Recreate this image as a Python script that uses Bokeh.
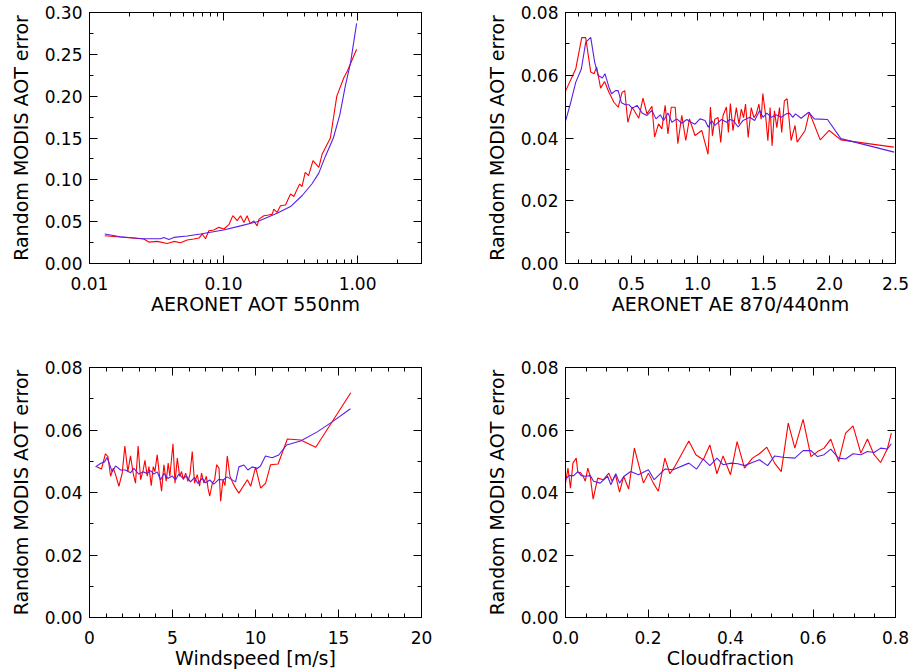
from bokeh.plotting import figure
from bokeh.layouts import gridplot
from bokeh.models import (LinearAxis, LogAxis, SingleIntervalTicker, FixedTicker,
                          NumeralTickFormatter, Range1d, CustomLabelingPolicy)
from bokeh.embed import file_html
from bokeh.resources import INLINE

RED = "#ff0000"
BLUE = "#5a1ee6"
FONT = "DejaVu Sans"
YLABEL = "Random MODIS AOT error"

# ---------------- Panel 1: AOT 550nm ----------------
aot_red_x = [0.0130, 0.0254, 0.0277, 0.0320, 0.0380, 0.0426, 0.0478, 0.0535, 0.0601, 0.0655,
             0.0693, 0.0734, 0.0777, 0.0847, 0.0923, 0.1005, 0.1096, 0.1174, 0.1265, 0.134,
             0.142, 0.150, 0.158, 0.168, 0.178, 0.184, 0.200, 0.217, 0.231, 0.237,
             0.251, 0.266, 0.290, 0.316, 0.335, 0.350, 0.370, 0.385, 0.407, 0.431,
             0.465, 0.514, 0.545, 0.627, 0.700, 0.790, 0.840, 0.984]
aot_red_y = [0.0332, 0.0292, 0.0256, 0.0264, 0.0240, 0.0264, 0.0248, 0.0280, 0.0292, 0.0304,
             0.0352, 0.0296, 0.0392, 0.0400, 0.0432, 0.0412, 0.0464, 0.0572, 0.0512, 0.0570,
             0.0490, 0.0570, 0.0480, 0.0510, 0.0450, 0.0530, 0.0570, 0.0580, 0.0590, 0.0650,
             0.0610, 0.0690, 0.0700, 0.0830, 0.0800, 0.0870, 0.0950, 0.0920, 0.1090, 0.1050,
             0.1230, 0.1150, 0.1310, 0.1500, 0.2000, 0.2220, 0.2300, 0.2560]
aot_blue_x = [0.0130, 0.0170, 0.0254, 0.0339, 0.0359, 0.0391, 0.0426, 0.0535, 0.0673, 0.100,
              0.134, 0.178, 0.251, 0.316, 0.385, 0.456, 0.514, 0.575, 0.660, 0.738,
              0.810, 0.887, 0.984]
aot_blue_y = [0.0352, 0.0320, 0.0296, 0.0296, 0.0312, 0.0288, 0.0312, 0.0328, 0.0352, 0.0400,
              0.0450, 0.0500, 0.0600, 0.0680, 0.0810, 0.0950, 0.1080, 0.1280, 0.1500, 0.1780,
              0.2120, 0.2400, 0.2870]

# ---------------- Panel 2: AE 870/440 ----------------
ae_red_x = [0.002, 0.078, 0.123, 0.153, 0.191, 0.216, 0.236, 0.266, 0.296, 0.329,
            0.367, 0.399, 0.429, 0.449, 0.472, 0.505, 0.555, 0.587, 0.617, 0.655,
            0.675, 0.705, 0.730, 0.755, 0.776, 0.801, 0.831, 0.851, 0.881, 0.911,
            0.939, 0.981, 1.032, 1.080, 1.098, 1.113, 1.131, 1.156, 1.176, 1.193,
            1.219, 1.234, 1.249, 1.269, 1.294, 1.314, 1.332, 1.349, 1.364, 1.384,
            1.407, 1.427, 1.445, 1.465, 1.482, 1.495, 1.515, 1.533, 1.550, 1.565,
            1.583, 1.601, 1.621, 1.638, 1.658, 1.679, 1.709, 1.739, 1.755, 1.815,
            1.847, 1.930, 1.998, 2.086, 2.487]
ae_red_y = [0.0551, 0.0621, 0.0720, 0.0720, 0.0610, 0.0605, 0.0626, 0.0559, 0.0580, 0.0546,
            0.0514, 0.0498, 0.0546, 0.0551, 0.0450, 0.0498, 0.0463, 0.0527, 0.0477, 0.0501,
            0.0403, 0.0445, 0.0429, 0.0504, 0.0413, 0.0498, 0.0498, 0.0382, 0.0472, 0.0392,
            0.0461, 0.0408, 0.0424, 0.0348, 0.0499, 0.0407, 0.0460, 0.0465, 0.0386, 0.0471,
            0.0499, 0.0418, 0.0510, 0.0423, 0.0497, 0.0444, 0.0492, 0.0465, 0.0508, 0.0402,
            0.0497, 0.0465, 0.0476, 0.0508, 0.0460, 0.0542, 0.0476, 0.0391, 0.0497, 0.0375,
            0.0487, 0.0433, 0.0497, 0.0418, 0.0518, 0.0525, 0.0392, 0.0440, 0.0387, 0.0424,
            0.0482, 0.0394, 0.0424, 0.0394, 0.0371]
ae_blue_x = [0.002, 0.040, 0.078, 0.120, 0.153, 0.191, 0.221, 0.248, 0.279, 0.299,
             0.329, 0.349, 0.379, 0.399, 0.424, 0.454, 0.480, 0.505, 0.542, 0.580,
             0.617, 0.655, 0.685, 0.718, 0.743, 0.776, 0.806, 0.843, 0.881, 0.919,
             0.951, 0.981, 1.019, 1.057, 1.082, 1.107, 1.132, 1.157, 1.182, 1.220,
             1.245, 1.270, 1.308, 1.345, 1.396, 1.433, 1.471, 1.496, 1.526, 1.559,
             1.596, 1.634, 1.672, 1.697, 1.722, 1.742, 1.785, 1.842, 1.885, 1.985,
             2.086, 2.490]
ae_blue_y = [0.0456, 0.0514, 0.0578, 0.0620, 0.0705, 0.0721, 0.0642, 0.0599, 0.0591, 0.0605,
             0.0562, 0.0541, 0.0551, 0.0551, 0.0512, 0.0506, 0.0506, 0.0495, 0.0504, 0.0480,
             0.0472, 0.0488, 0.0461, 0.0474, 0.0456, 0.0480, 0.0450, 0.0461, 0.0447, 0.0459,
             0.0450, 0.0444, 0.0461, 0.0456, 0.0434, 0.0456, 0.0440, 0.0450, 0.0459, 0.0450,
             0.0459, 0.0456, 0.0435, 0.0456, 0.0466, 0.0456, 0.0488, 0.0466, 0.0479, 0.0466,
             0.0474, 0.0466, 0.0477, 0.0479, 0.0466, 0.0477, 0.0463, 0.0482, 0.0461, 0.0459,
             0.0398, 0.0355]

# ---------------- Panel 3: Windspeed ----------------
ws_red_x = [0.40, 0.72, 0.96, 1.11, 1.27, 1.43, 1.57, 1.77, 1.97, 2.13,
            2.31, 2.47, 2.63, 2.77, 2.93, 3.08, 3.24, 3.34, 3.48, 3.58,
            3.72, 3.84, 3.94, 4.08, 4.20, 4.34, 4.48, 4.62, 4.74, 4.84,
            5.03, 5.15, 5.29, 5.43, 5.55, 5.65, 5.79, 5.93, 6.05, 6.19,
            6.33, 6.49, 6.63, 6.75, 6.89, 7.04, 7.14, 7.24, 7.40, 7.54,
            7.66, 7.80, 7.90, 8.04, 8.16, 8.30, 8.46, 8.64, 8.80, 9.00,
            9.51, 9.71, 10.01, 10.31, 10.61, 10.91, 11.36, 11.92, 12.72, 13.63,
            15.74]
ws_red_y = [0.0483, 0.0475, 0.0524, 0.0515, 0.0452, 0.0478, 0.0457, 0.0420, 0.0462, 0.0549,
            0.0467, 0.0517, 0.0462, 0.0430, 0.0549, 0.0441, 0.0473, 0.0503, 0.0452, 0.0483,
            0.0422, 0.0483, 0.0467, 0.0521, 0.0462, 0.0404, 0.0489, 0.0436, 0.0494, 0.0452,
            0.0556, 0.0430, 0.0510, 0.0452, 0.0467, 0.0441, 0.0462, 0.0436, 0.0457, 0.0531,
            0.0430, 0.0457, 0.0420, 0.0462, 0.0430, 0.0452, 0.0414, 0.0388, 0.0430, 0.0441,
            0.0489, 0.0478, 0.0372, 0.0441, 0.0422, 0.0517, 0.0452, 0.0430, 0.0414, 0.0398,
            0.0441, 0.0420, 0.0481, 0.0414, 0.0430, 0.0489, 0.0491, 0.0571, 0.0568, 0.0545,
            0.0719]
ws_blue_x = [0.36, 0.66, 0.90, 1.06, 1.37, 1.57, 1.87, 2.17, 2.47, 2.67,
             2.97, 3.23, 3.47, 3.68, 3.88, 4.08, 4.28, 4.48, 4.72, 4.98,
             5.18, 5.38, 5.64, 5.84, 6.08, 6.33, 6.53, 6.79, 6.99, 7.25,
             7.49, 7.79, 8.05, 8.29, 8.55, 8.80, 9.00, 9.30, 9.54, 9.80,
             10.10, 10.30, 10.60, 11.00, 11.40, 11.87, 12.71, 13.72, 14.62, 15.72]
ws_blue_y = [0.0482, 0.0493, 0.0498, 0.0512, 0.0466, 0.0485, 0.0472, 0.0472, 0.0463, 0.0477,
             0.0459, 0.0466, 0.0461, 0.0470, 0.0459, 0.0466, 0.0440, 0.0461, 0.0445, 0.0453,
             0.0440, 0.0459, 0.0445, 0.0453, 0.0434, 0.0448, 0.0429, 0.0445, 0.0431, 0.0440,
             0.0427, 0.0442, 0.0440, 0.0450, 0.0442, 0.0434, 0.0482, 0.0488, 0.0472, 0.0482,
             0.0477, 0.0485, 0.0517, 0.0511, 0.0520, 0.0552, 0.0565, 0.0594, 0.0626, 0.0668]

# ---------------- Panel 4: Cloudfraction ----------------
cf_red_x = [0.000, 0.006, 0.012, 0.018, 0.026, 0.030, 0.036, 0.043, 0.048, 0.054,
            0.060, 0.067, 0.078, 0.092, 0.105, 0.113, 0.121, 0.131, 0.141, 0.153,
            0.167, 0.189, 0.201, 0.213, 0.225, 0.241, 0.253, 0.265, 0.299, 0.316,
            0.334, 0.350, 0.367, 0.382, 0.400, 0.416, 0.434, 0.453, 0.470, 0.488,
            0.507, 0.523, 0.540, 0.556, 0.576, 0.595, 0.611, 0.627, 0.643, 0.662,
            0.679, 0.697, 0.716, 0.732, 0.748, 0.764, 0.780, 0.790]
cf_red_y = [0.0430, 0.0478, 0.0414, 0.0494, 0.0510, 0.0464, 0.0464, 0.0452, 0.0436, 0.0478,
            0.0452, 0.0379, 0.0446, 0.0441, 0.0462, 0.0436, 0.0457, 0.0401, 0.0452, 0.0411,
            0.0542, 0.0430, 0.0462, 0.0430, 0.0404, 0.0510, 0.0460, 0.0483, 0.0565, 0.0521,
            0.0505, 0.0552, 0.0460, 0.0517, 0.0457, 0.0563, 0.0478, 0.0510, 0.0524, 0.0545,
            0.0494, 0.0467, 0.0622, 0.0542, 0.0634, 0.0515, 0.0531, 0.0542, 0.0571, 0.0499,
            0.0590, 0.0613, 0.0526, 0.0571, 0.0521, 0.0496, 0.0539, 0.0590]
cf_blue_x = [0.000, 0.008, 0.020, 0.030, 0.038, 0.048, 0.060, 0.068, 0.084, 0.102,
             0.110, 0.122, 0.131, 0.142, 0.158, 0.177, 0.201, 0.215, 0.241, 0.261,
             0.299, 0.318, 0.334, 0.350, 0.367, 0.382, 0.402, 0.418, 0.434, 0.453,
             0.470, 0.490, 0.507, 0.527, 0.556, 0.576, 0.595, 0.611, 0.627, 0.643,
             0.662, 0.679, 0.697, 0.716, 0.732, 0.748, 0.764, 0.780, 0.790]
cf_blue_y = [0.0441, 0.0454, 0.0454, 0.0467, 0.0454, 0.0452, 0.0454, 0.0436, 0.0430, 0.0452,
             0.0425, 0.0460, 0.0430, 0.0452, 0.0467, 0.0457, 0.0473, 0.0441, 0.0475, 0.0473,
             0.0494, 0.0475, 0.0507, 0.0486, 0.0510, 0.0489, 0.0494, 0.0492, 0.0486, 0.0496,
             0.0505, 0.0486, 0.0517, 0.0513, 0.0510, 0.0534, 0.0534, 0.0515, 0.0521, 0.0539,
             0.0510, 0.0507, 0.0524, 0.0521, 0.0531, 0.0528, 0.0542, 0.0539, 0.0556]


def style_axis(ax, ticker, fmt, show_labels):
    ax.ticker = ticker
    ax.formatter = NumeralTickFormatter(format=fmt)
    ax.axis_line_color = "black"
    ax.major_tick_in = 8
    ax.major_tick_out = 0
    ax.minor_tick_in = 4
    ax.minor_tick_out = 0
    ax.major_tick_line_color = "black"
    ax.minor_tick_line_color = "black"
    ax.major_label_text_font = FONT
    ax.major_label_text_color = "black"
    ax.axis_label_text_font = FONT
    ax.axis_label_text_font_style = "normal"
    ax.axis_label_text_font_size = "19px"
    ax.axis_label_text_color = "black"
    if show_labels:
        ax.major_label_text_font_size = "17px"
    else:
        # tick marks only: draw no labels on the mirrored top/right axes
        ax.major_label_text_font_size = "1px"
        ax.major_label_standoff = 0
        ax.major_label_policy = CustomLabelingPolicy(code="""
            const n = indices.size
            for (let i = 0; i < n; i++) { indices.unset(i) }
            return indices
        """)


def make_panel(width, height, borders, x_range, y_range, x_type,
               xticker_fn, yticker_fn, xfmt, yfmt, xlabel, series):
    left, right, top, bottom = borders
    p = figure(width=width, height=height, x_axis_type=x_type,
               x_range=Range1d(*x_range), y_range=Range1d(*y_range),
               output_backend="svg", toolbar_location=None,
               min_border_left=left, min_border_right=right,
               min_border_top=top, min_border_bottom=bottom)
    p.xgrid.visible = False
    p.ygrid.visible = False
    p.outline_line_color = "black"
    p.outline_line_width = 1
    p.background_fill_color = "white"
    p.border_fill_color = "white"

    style_axis(p.xaxis[0], xticker_fn(), xfmt, True)
    style_axis(p.yaxis[0], yticker_fn(), yfmt, True)
    p.xaxis[0].axis_label = xlabel
    p.xaxis[0].major_label_standoff = 13
    p.xaxis[0].axis_label_standoff = 0
    p.yaxis[0].axis_label = YLABEL
    p.yaxis[0].major_label_standoff = 7
    p.yaxis[0].axis_label_standoff = 10

    top_ax = LogAxis() if x_type == "log" else LinearAxis()
    style_axis(top_ax, xticker_fn(), xfmt, False)
    p.add_layout(top_ax, "above")
    right_ax = LinearAxis()
    style_axis(right_ax, yticker_fn(), yfmt, False)
    p.add_layout(right_ax, "right")

    for xs, ys, col in series:
        p.line(xs, ys, line_color=col, line_width=1.1)
    return p


def log_ticker():
    minors = [m * d for d in (0.01, 0.1, 1.0) for m in range(2, 10)]
    return FixedTicker(ticks=[0.01, 0.1, 1.0], minor_ticks=minors)


W1, W2 = 482, 428
H1, H2 = 348, 323

p1 = make_panel(W1, H1, (89, 61, 12, 85), (0.01, 3.0), (0.0, 0.300001), "log",
                log_ticker, lambda: SingleIntervalTicker(interval=0.05, num_minor_ticks=2),
                "0.00", "0.00", "AERONET AOT 550nm",
                [(aot_red_x, aot_red_y, RED), (aot_blue_x, aot_blue_y, BLUE)])
p2 = make_panel(W2, H1, (81, 15, 12, 85), (0.0, 2.5), (0.0, 0.080001), "linear",
                lambda: SingleIntervalTicker(interval=0.5, num_minor_ticks=5),
                lambda: SingleIntervalTicker(interval=0.02, num_minor_ticks=2),
                "0.0", "0.00", "AERONET AE 870/440nm",
                [(ae_red_x, ae_red_y, RED), (ae_blue_x, ae_blue_y, BLUE)])
p3 = make_panel(W1, H2, (89, 61, 19, 53), (0.0, 20.0), (0.0, 0.080001), "linear",
                lambda: SingleIntervalTicker(interval=5, num_minor_ticks=5),
                lambda: SingleIntervalTicker(interval=0.02, num_minor_ticks=2),
                "0", "0.00", "Windspeed [m/s]",
                [(ws_red_x, ws_red_y, RED), (ws_blue_x, ws_blue_y, BLUE)])
p4 = make_panel(W2, H2, (81, 15, 19, 53), (0.0, 0.8), (0.0, 0.080001), "linear",
                lambda: SingleIntervalTicker(interval=0.2, num_minor_ticks=4),
                lambda: SingleIntervalTicker(interval=0.02, num_minor_ticks=2),
                "0.0", "0.00", "Cloudfraction",
                [(cf_red_x, cf_red_y, RED), (cf_blue_x, cf_blue_y, BLUE)])

grid = gridplot([[p1, p2], [p3, p4]], toolbar_location=None)

with open("out.html", "w") as f:
    f.write(file_html(grid, INLINE))
